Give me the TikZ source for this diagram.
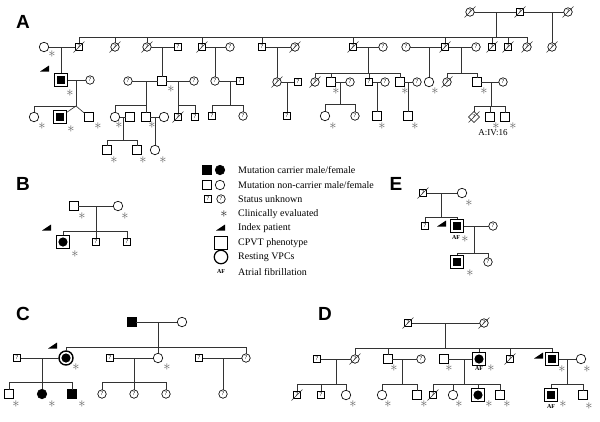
\documentclass[tikz,border=0pt]{standalone}
\usepackage{fontspec}
\setmainfont{Liberation Serif}
\newfontfamily\labfont{Liberation Sans}
\usetikzlibrary{shapes.geometric}
\newcommand\qfont{\fontsize{6}{6}\selectfont}
\newcommand\dec[1]{\draw[ln] ([shift={(-5.5,5.5)}]#1.center) -- ([shift={(5.5,-5.5)}]#1.center);}
\newcommand\idx[2]{\fill[black,shift={(#1,#2)}] (-5,2.5) -- (4,2.5) -- (4,-3.5) -- cycle;}
\newcommand\ev[3]{\node[ast] (#1e) at (#2,#3) {$\ast$};}
\tikzset{
  sym/.style={draw=black, line width=0.65pt, fill=white, inner sep=0pt, outer sep=0pt},
  ma/.style={sym, rectangle, minimum size=8.5pt},
  fe/.style={sym, circle, minimum size=9.5pt},
  mu/.style={sym, rectangle, minimum size=7.5pt, font=\qfont},
  fu/.style={sym, circle, minimum size=8.5pt, font=\qfont},
  du/.style={sym, diamond, minimum size=11pt, font=\qfont},
  mc/.style={ma, fill=black},
  fc/.style={fe, fill=black},
  pm/.style={sym, rectangle, minimum size=13.5pt, line width=1.4pt,
    path picture={\fill[black] (path picture bounding box.center) +(-4.25pt,-4.25pt) rectangle +(4.25pt,4.25pt);}},
  pf/.style={sym, rectangle, minimum size=13.5pt, line width=1.4pt,
    path picture={\fill[black] (path picture bounding box.center) circle[radius=4.6pt];}},
  pc/.style={sym, circle, minimum size=14pt, line width=1.4pt,
    path picture={\fill[black] (path picture bounding box.center) circle[radius=4.6pt];}},
  ln/.style={line width=0.65pt, draw=black!80},
  ast/.style={inner sep=0pt, font=\fontsize{15}{15}\selectfont, text=black!60},
  lab/.style={inner sep=0pt, font=\labfont\bfseries\fontsize{19}{19}\selectfont},
  leg/.style={inner sep=0pt, anchor=west, font=\fontsize{10}{12}\selectfont},
  af/.style={inner sep=0pt, font=\bfseries\fontsize{6}{6}\selectfont},
  tag/.style={inner sep=0pt, font=\fontsize{9}{10}\selectfont},
}
\begin{document}
\begin{tikzpicture}[x=1pt,y=-1pt]
\useasboundingbox (0,0) rectangle (600,421);
\fill[white] (0,0) rectangle (600,421);

%================ A =================
\node[lab] (labA) at (23,22) {A};
% gen I
\node[fu] (a1) at (470,12) {?};
\node[mu] (a2) at (520,12) {?};
\node[fu] (a3) at (568,12) {?};
% gen II
\node[fe] (b0) at (44,47) {};
\node[mu] (b1) at (79,47) {?};
\node[fu] (b2) at (115,47) {?};
\node[fu] (b3) at (147,47) {?};
\node[mu] (b4) at (178,47) {?};
\node[mu] (b5) at (202,47) {?};
\node[fu] (b6) at (230,47) {?};
\node[mu] (b7) at (262,47) {?};
\node[fu] (b8) at (295,47) {?};
\node[mu] (b9) at (353,47) {?};
\node[fu] (b10) at (383,47) {?};
\node[fu] (b11) at (406,47) {?};
\node[mu] (b12) at (445,47) {?};
\node[fu] (b13) at (476,47) {?};
\node[mu] (b14) at (492,47) {?};
\node[mu] (b15) at (508,47) {?};
\node[fu] (b16) at (527,47) {?};
\node[fu] (b17) at (552,47) {?};
% gen III
\node[pm] (c1) at (61,80) {};
\node[fu] (c2) at (90,80) {?};
\node[fu] (c3) at (128,81) {?};
\node[ma] (c4) at (162,81) {};
\node[fu] (c5) at (194,81) {?};
\node[fu] (c6) at (215,81) {?};
\node[mu] (c7) at (240,81) {?};
\node[fu] (c8) at (277,82) {?};
\node[mu] (c9) at (298,82) {?};
\node[fu] (c10) at (315,82) {?};
\node[ma] (c11) at (331,82) {};
\node[fu] (c12) at (350,82) {?};
\node[mu] (c13) at (369,82) {?};
\node[fu] (c14) at (385,82) {?};
\node[ma] (c15) at (400,82) {};
\node[fu] (c16) at (417,82) {?};
\node[fe] (c17) at (429,82) {};
\node[fu] (c18) at (447,82) {?};
\node[ma] (c19) at (477,82) {};
\node[fu] (c20) at (503,82) {?};
% gen IV
\node[fe] (d1) at (34,117) {};
\node[pm] (d2) at (60,117) {};
\node[ma] (d3) at (89,117) {};
\node[fe] (d4) at (115,117) {};
\node[ma] (d5) at (130,117) {};
\node[ma] (d6) at (146,117) {};
\node[fe] (d7) at (164,117) {};
\node[mu] (d8) at (178,117) {?};
\node[mu] (d9) at (195,117) {?};
\node[mu] (d10) at (212,116) {?};
\node[fu] (d11) at (243,116) {?};
\node[mu] (d12) at (287,116) {?};
\node[fe] (d13) at (325,116) {};
\node[fu] (d14) at (355,116) {?};
\node[ma] (d15) at (377,116) {};
\node[ma] (d16) at (408,116) {};
\node[du] (d17) at (474,117) {?};
\node[ma] (d18) at (490,117) {};
\node[ma] (d19) at (505,117) {};
\node[tag] (tagA) at (493,133) {A:IV:16};
% gen V
\node[ma] (e1) at (107,150) {};
\node[ma] (e2) at (137,150) {};
\node[fe] (e3) at (155,150) {};

% lines gen I
\draw[ln] (a1) -- (a2); \draw[ln] (a2) -- (a3);
\coordinate (as1) at (496,37);
\draw[ln] (as1 |- a1) -- (as1);
\draw[ln] (b17 |- a2) -- (b17);
\draw[ln] (b1 |- as1) -- (b16 |- as1);
\foreach \n in {b1,b2,b3,b5,b7,b9,b12,b14,b15,b16} \draw[ln] (\n |- as1) -- (\n);
% lines gen II
\draw[ln] (b0) -- (b1); \draw[ln] (c1 |- b0) -- (c1);
\draw[ln] (b3) -- (b4); \draw[ln] (c4 |- b3) -- (c4);
\draw[ln] (b5) -- (b6); \draw[ln] (c6 |- b5) -- (c6);
\draw[ln] (b7) -- (b8); \draw[ln] (c8 |- b7) -- (c8);
\draw[ln] (b9) -- (b10);
\coordinate (bs9) at (368,73);
\draw[ln] (bs9 |- b9) -- (bs9);
\draw[ln] (c10 |- bs9) -- (c15 |- bs9);
\foreach \n in {c10,c11,c13,c15} \draw[ln] (\n |- bs9) -- (\n);
\draw[ln] (b11) -- (b12); \draw[ln] (c17 |- b11) -- (c17);
\draw[ln] (b12) -- (b13);
\coordinate (bs12) at (461,73);
\draw[ln] (bs12 |- b12) -- (bs12);
\draw[ln] (c18 |- bs12) -- (c19 |- bs12);
\foreach \n in {c18,c19} \draw[ln] (\n |- bs12) -- (\n);
% lines gen III
\draw[ln] (c1) -- (c2);
\coordinate (tw) at (76,106);
\draw[ln] (tw |- c1) -- (tw);
\draw[ln] (d1 |- tw) -- (tw);
\draw[ln] (d1 |- tw) -- (d1);
\draw[ln] (tw) -- (d2); \draw[ln] (tw) -- (d3);
\draw[ln] (c3) -- (c4); \draw[ln] (c4) -- (c5);
\coordinate (cs3) at (146,105);
\draw[ln] (cs3 |- c3) -- (cs3);
\draw[ln] (d4 |- cs3) -- (d6 |- cs3);
\foreach \n in {d4,d6} \draw[ln] (\n |- cs3) -- (\n);
\coordinate (cs4) at (178,105);
\draw[ln] (cs4 |- c4) -- (cs4);
\draw[ln] (d8 |- cs4) -- (d9 |- cs4);
\foreach \n in {d8,d9} \draw[ln] (\n |- cs4) -- (\n);
\draw[ln] (c6) -- (c7);
\coordinate (cs6) at (230,105);
\draw[ln] (cs6 |- c6) -- (cs6);
\draw[ln] (d10 |- cs6) -- (d11 |- cs6);
\foreach \n in {d10,d11} \draw[ln] (\n |- cs6) -- (\n);
\draw[ln] (c8) -- (c9); \draw[ln] (d12 |- c8) -- (d12);
\draw[ln] (c11) -- (c12);
\coordinate (cs11) at (340,104);
\draw[ln] (cs11 |- c11) -- (cs11);
\draw[ln] (d13 |- cs11) -- (d14 |- cs11);
\foreach \n in {d13,d14} \draw[ln] (\n |- cs11) -- (\n);
\draw[ln] (c13) -- (c14); \draw[ln] (d15 |- c13) -- (d15);
\draw[ln] (c15) -- (c16); \draw[ln] (d16 |- c15) -- (d16);
\draw[ln] (c19) -- (c20);
\coordinate (cs19) at (491,106);
\draw[ln] (cs19 |- c19) -- (cs19);
\draw[ln] (d17 |- cs19) -- (d19 |- cs19);
\foreach \n in {d17,d18,d19} \draw[ln] (\n |- cs19) -- (\n);
% lines gen IV
\draw[ln] (d4) -- (d5);
\coordinate (ds4) at (123,140);
\draw[ln] (ds4 |- d4) -- (ds4);
\draw[ln] (e1 |- ds4) -- (e2 |- ds4);
\foreach \n in {e1,e2} \draw[ln] (\n |- ds4) -- (\n);
\draw[ln] (d6) -- (d7); \draw[ln] (e3 |- d6) -- (e3);
% deceased
\foreach \n in {a1,a2,a3,b1,b2,b3,b5,b8,b9,b12,b14,b15,b16,b17,c8,c10,c18,d8,d17} {\dec{\n}}
% index + evaluated
\idx{45}{69}
\ev{b0}{52}{54}
\ev{c1}{70}{93}
\ev{c4}{171}{89}
\ev{c11}{336}{91}
\ev{c15}{405}{91}
\ev{c17}{435}{91}
\ev{c19}{484}{91}
\ev{d1}{42}{126}
\ev{d2}{71}{129}
\ev{d3}{98}{126}
\ev{d4}{119}{125}
\ev{d6}{152}{125}
\ev{d13}{333}{126}
\ev{d15}{382}{126}
\ev{d16}{415}{126}
\ev{d18}{496}{126}
\ev{d19}{513}{126}
\ev{e1}{114}{160}
\ev{e2}{143}{160}
\ev{e3}{163}{160}

%================ B =================
\node[lab] (labB) at (23,184) {B};
\node[ma] (B1) at (74,206) {};
\node[fe] (B2) at (118,206) {};
\node[pf] (B3) at (63,242) {};
\node[mu] (B4) at (96,242) {?};
\node[mu] (B5) at (127,242) {?};
\draw[ln] (B1) -- (B2);
\coordinate (Bs) at (96,231);
\draw[ln] (Bs |- B1) -- (Bs);
\draw[ln] (B3 |- Bs) -- (B5 |- Bs);
\foreach \n in {B3,B4,B5} \draw[ln] (\n |- Bs) -- (\n);
\idx{47}{228}
\ev{B1}{82}{216}
\ev{B2}{125}{216}
\ev{B3}{75}{254}

%================ legend =================
\node[mc] (l1a) at (207,170) {};
\node[fc] (l1b) at (220,170) {};
\node[leg] (l1t) at (238,170) {Mutation carrier male/female};
\node[ma] (l2a) at (207,185) {};
\node[fe] (l2b) at (220,185) {};
\node[leg] (l2t) at (238,185) {Mutation non-carrier male/female};
\node[mu] (l3a) at (208,199) {?};
\node[fu] (l3b) at (221,199) {?};
\node[leg] (l3t) at (238,199) {Status unknown};
\node[ast, text=black!85] (l4a) at (224,214) {$\ast$};
\node[leg] (l4t) at (238,214) {Clinically evaluated};
\idx{221}{228}
\node[leg] (l5t) at (238,228) {Index patient};
\node[sym, rectangle, minimum size=13pt, line width=1.2pt] (l6a) at (221,243) {};
\node[leg] (l6t) at (238,243) {CPVT phenotype};
\node[sym, circle, minimum size=13.5pt, line width=1.2pt] (l7a) at (221,257) {};
\node[leg] (l7t) at (238,257) {Resting VPCs};
\node[af] (l8a) at (221,272) {AF};
\node[leg] (l8t) at (238,272) {Atrial fibrillation};

%================ E =================
\node[lab] (labE) at (396,184) {E};
\node[mu] (E1) at (423,193) {?};
\node[fe] (E2) at (462,193) {};
\node[mu] (E3) at (425,226) {?};
\node[pm] (E4) at (457,226) {};
\node[fu] (E5) at (493,226) {?};
\node[pm] (E6) at (457,262) {};
\node[fu] (E7) at (488,262) {?};
\draw[ln] (E1) -- (E2);
\coordinate (Es1) at (441,217);
\draw[ln] (Es1 |- E1) -- (Es1);
\draw[ln] (E3 |- Es1) -- (E4 |- Es1);
\foreach \n in {E3,E4} \draw[ln] (\n |- Es1) -- (\n);
\draw[ln] (E4) -- (E5);
\coordinate (Es2) at (474,253);
\draw[ln] (Es2 |- E4) -- (Es2);
\draw[ln] (E6 |- Es2) -- (E7 |- Es2);
\foreach \n in {E6,E7} \draw[ln] (\n |- Es2) -- (\n);
\dec{E1}
\idx{442}{224}
\node[af] (E4af) at (456,238) {AF};
\ev{E2}{469}{203}
\ev{E4}{465}{239}
\ev{E6}{470}{273}

%================ C =================
\node[lab] (labC) at (23,314) {C};
\node[mc] (C1) at (132,322) {};
\node[fe] (C2) at (182,322) {};
\node[mu] (C3) at (17,358) {?};
\node[pc] (C4) at (66,358) {};
\node[mu] (C8) at (110,358) {?};
\node[fe] (C9) at (158,358) {};
\node[mu] (C13) at (199,358) {?};
\node[fu] (C14) at (246,358) {?};
\node[ma] (C5) at (9,394) {};
\node[fc] (C6) at (42,394) {};
\node[mc] (C7) at (72,394) {};
\node[fu] (C10) at (102,394) {?};
\node[fu] (C11) at (134,394) {?};
\node[fu] (C12) at (166,394) {?};
\node[fu] (C15) at (223,394) {?};
\draw[ln] (C1) -- (C2);
\coordinate (Cs1) at (158,347);
\draw[ln] (Cs1 |- C1) -- (Cs1);
\draw[ln] (C4 |- Cs1) -- (C14 |- Cs1);
\foreach \n in {C4,C9,C14} \draw[ln] (\n |- Cs1) -- (\n);
\draw[ln] (C3) -- (C4);
\coordinate (Cs2) at (42,382);
\draw[ln] (Cs2 |- C3) -- (Cs2);
\draw[ln] (C5 |- Cs2) -- (C7 |- Cs2);
\foreach \n in {C5,C6,C7} \draw[ln] (\n |- Cs2) -- (\n);
\draw[ln] (C8) -- (C9);
\coordinate (Cs3) at (134,382);
\draw[ln] (Cs3 |- C8) -- (Cs3);
\draw[ln] (C10 |- Cs3) -- (C12 |- Cs3);
\foreach \n in {C10,C11,C12} \draw[ln] (\n |- Cs3) -- (\n);
\draw[ln] (C13) -- (C14);
\draw[ln] (C15 |- C13) -- (C15);
\idx{53}{346}
\ev{C4}{76}{367}
\ev{C9}{167}{367}
\ev{C5}{16}{404}
\ev{C6}{52}{404}
\ev{C7}{82}{404}

%================ D =================
\node[lab] (labD) at (325,314) {D};
\node[mu] (D1) at (408,323) {?};
\node[fu] (D2) at (484,323) {?};
\node[mu] (D3) at (317,359) {?};
\node[fu] (D4) at (355,359) {?};
\node[ma] (D8) at (388,359) {};
\node[fu] (D9) at (421,359) {?};
\node[ma] (D12) at (444,359) {};
\node[pf] (D13) at (479,359) {};
\node[mu] (D18) at (510,359) {?};
\node[pm] (D19) at (552,359) {};
\node[fe] (D20) at (581,359) {};
\node[mu] (D5) at (297,395) {?};
\node[mu] (D6) at (321,395) {?};
\node[fe] (D7) at (346,395) {};
\node[fe] (D10) at (382,395) {};
\node[ma] (D11) at (417,395) {};
\node[mu] (D14) at (433,395) {?};
\node[fe] (D15) at (453,395) {};
\node[pf] (D16) at (478,395) {};
\node[ma] (D17) at (500,395) {};
\node[pm] (D21) at (551,395) {};
\node[ma] (D22) at (583,395) {};
\draw[ln] (D1) -- (D2);
\coordinate (Ds1) at (445,348);
\draw[ln] (Ds1 |- D1) -- (Ds1);
\draw[ln] (D4 |- Ds1) -- (D19 |- Ds1);
\foreach \n in {D4,D8,D13,D18,D19} \draw[ln] (\n |- Ds1) -- (\n);
\draw[ln] (D3) -- (D4);
\coordinate (Ds2) at (336,384);
\draw[ln] (Ds2 |- D3) -- (Ds2);
\draw[ln] (D5 |- Ds2) -- (D7 |- Ds2);
\foreach \n in {D5,D6,D7} \draw[ln] (\n |- Ds2) -- (\n);
\draw[ln] (D8) -- (D9);
\coordinate (Ds3) at (402,384);
\draw[ln] (Ds3 |- D8) -- (Ds3);
\draw[ln] (D10 |- Ds3) -- (D11 |- Ds3);
\foreach \n in {D10,D11} \draw[ln] (\n |- Ds3) -- (\n);
\draw[ln] (D12) -- (D13);
\coordinate (Ds4) at (464,384);
\draw[ln] (Ds4 |- D12) -- (Ds4);
\draw[ln] (D14 |- Ds4) -- (D17 |- Ds4);
\foreach \n in {D14,D15,D16,D17} \draw[ln] (\n |- Ds4) -- (\n);
\draw[ln] (D19) -- (D20);
\coordinate (Ds5) at (567,384);
\draw[ln] (Ds5 |- D19) -- (Ds5);
\draw[ln] (D21 |- Ds5) -- (D22 |- Ds5);
\foreach \n in {D21,D22} \draw[ln] (\n |- Ds5) -- (\n);
\foreach \n in {D1,D2,D4,D5,D14,D18} {\dec{\n}}
\idx{539}{356}
\node[af] (D13af) at (479,369) {AF};
\node[af] (D21af) at (551,407) {AF};
\ev{D8}{394}{368}
\ev{D12}{449}{368}
\ev{D13}{491}{368}
\ev{D19}{562}{369}
\ev{D20}{587}{369}
\ev{D7}{353}{404}
\ev{D10}{388}{404}
\ev{D11}{424}{404}
\ev{D15}{459}{404}
\ev{D16}{489}{404}
\ev{D17}{507}{404}
\ev{D21}{563}{404}
\ev{D22}{589}{406}
\end{tikzpicture}
\end{document}
